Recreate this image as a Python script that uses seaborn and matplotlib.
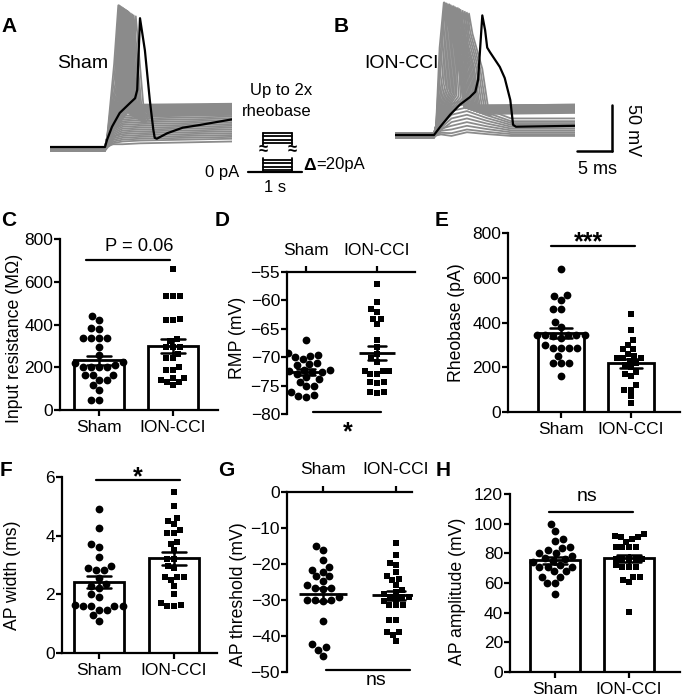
import numpy as np
import pandas as pd
import matplotlib
matplotlib.use("Agg")
import matplotlib.pyplot as plt
import seaborn as sns

# ---------------- data ----------------
groups = ["Sham", "ION-CCI"]

# C: input resistance (MOhm)
c_sham = [440, 420, 385, 377, 335, 335, 335, 335, 296, 257, 225, 220, 210, 203, 203,
          203, 203, 165, 165, 165, 140, 140, 117, 94, 47, 47]
c_ion = [660, 533, 533, 533, 425, 421, 421, 323, 330, 296, 296, 296, 260, 242, 242,
         200, 187, 187, 148, 148, 129, 129, 117, 140]
# D: RMP (mV)
d_sham = [-67.0, -69.6, -69.8, -69.2, -70.0, -70.4, -71.1, -71.4, -71.2, -72.0, -72.3,
          -72.6, -72.5, -72.6, -73.0, -73.5, -73.9, -74.3, -75.1, -75.0, -76.1, -77.0,
          -76.8, -76.6, -72.2]
d_ion = [-57.2, -60.2, -61.5, -62.1, -63.3, -63.3, -64.2, -67.0, -68.2, -69.5, -70.2,
         -70.8, -72.4, -72.4, -72.4, -73.0, -73.0, -74.3, -74.5, -74.3, -76.1, -76.3, -76.1]
# E: rheobase (pA)
e_sham = [640, 524, 520, 502, 460, 460, 404, 346, 346, 346, 346, 346, 340, 286, 286,
          286, 286, 252, 219, 219, 219, 162, 300, 330, 380]
e_ion = [440, 365, 320, 300, 280, 280, 260, 250, 240, 240, 240, 230, 220, 210, 200,
         180, 170, 160, 120, 100, 100, 70, 40]
# F: AP width (ms)
f_sham = [4.9, 4.27, 3.7, 3.6, 3.27, 2.95, 2.82, 2.82, 2.9, 2.57, 2.27, 2.36, 2.23, 1.9,
          1.62, 1.59, 1.59, 1.59, 1.48, 1.48, 1.28, 1.09, 2.0, 1.6]
f_ion = [5.5, 5.0, 4.5, 4.6, 4.4, 4.2, 4.1, 4.1, 3.8, 3.7, 3.5, 3.2, 3.2, 2.95, 2.9,
         2.6, 2.6, 2.6, 2.5, 2.3, 2.0, 1.7, 1.6, 1.6, 1.65]
# G: AP threshold (mV)
g_sham = [-15.1, -16.2, -18.8, -20.8, -21.6, -23.4, -22.2, -23.4, -24.7, -26.9, -26.6,
          -26.6, -25.9, -29.9, -29.9, -29.9, -29.2, -30.3, -35.8, -42.3, -43.1, -43.8, -45.6]
g_ion = [-14.2, -17.6, -19.7, -20.4, -23.4, -24.1, -22.2, -24.4, -25.9, -28.4, -27.1,
         -27.8, -30.3, -29.2, -29.2, -29.2, -29.6, -31.5, -31.5, -31.5, -35.6, -35.6,
         -38.9, -38.9, -39.8, -41.4]
# H: AP amplitude (mV)
h_sham = [99.7, 95.0, 89.4, 88.2, 84.4, 83.5, 82.2, 80.5, 79.9, 78, 77, 76, 75, 74, 72,
          70.9, 70.9, 70.9, 68, 68, 64.2, 64.2, 60, 60, 52.4]
h_ion = [93, 92, 91, 90, 91, 87.8, 84.4, 84, 84, 84, 76.5, 76, 76, 76, 76, 70.9, 70.9,
         70.9, 72, 64.2, 64.2, 61.9, 60.8, 40.5]

# A: Sham example traces (time ms from step onset, membrane potential mV)
a_black_t = [-7.9, 0, 0.3, 1.0, 2.1, 3.6, 4.3, 4.6, 5.0, 5.7, 6.4, 6.9, 7.1, 7.4, 8.9, 11.1, 13.6, 18.1]
a_black_v = [-60, -60, -52, -38, -23, -12, -7, 2, 80, 45, -9, -41, -50, -51, -45, -39, -36, -30]
a_spk_tp = [1.9, 2.0, 2.1, 2.2, 2.3, 2.4, 2.5, 2.6, 2.7, 2.8, 2.9, 3.0, 3.1, 3.2, 3.35, 3.5, 3.7, 3.9, 4.1, 4.4]
a_spk_vp = [94, 94, 93, 93, 92, 92, 91, 91, 90, 90, 89, 89, 88, 88, 87, 86, 85, 84, 83, 82]
a_spk_pre = [30, 20, 10, 5, 0, -3, -5, -7, -9, -10, -11, -12, -13, -14, -15, -15, -16, -16, -17, -17]
a_spk_lv = [-14, -15, -15, -16, -16, -17, -17, -18, -18, -19, -19, -20, -20, -21, -21, -22, -23, -24, -25, -26]
a_spk_base = [-60, -61, -62, -63, -64, -60, -61, -62, -63, -64, -60, -61, -62, -63, -64, -60, -61, -62, -63, -64]
a_sub_lv = [-25, -27, -29, -31, -33, -35, -37, -39, -41, -43, -45, -47, -49, -51, -53, -56]
a_sub_base = [-60, -61, -62, -63, -64, -60, -61, -62, -63, -64, -60, -61, -62, -63, -64, -60]

# B: ION-CCI example traces
b_black_t = [-5.6, 0, 0.9, 2.3, 3.7, 5.1, 5.9, 6.3, 6.9, 7.3, 7.6, 8.0, 9.4, 10.1, 10.9, 11.3, 11.7, 20.1]
b_black_v = [-60, -60, -51, -38, -27, -19, -13, 0, 70, 54, 35, 30, 14, 2, -22, -49, -51, -50]
b_spk_tp = [1.4, 1.5, 1.6, 1.8, 2.0, 2.2, 2.4, 2.6, 2.8, 3.0, 3.2, 3.4, 3.6, 3.8, 4.1, 4.4, 4.7, 5.0]
b_spk_vp = [84, 84, 83, 83, 82, 82, 81, 80, 80, 79, 78, 78, 77, 76, 75, 74, 73, 72]
b_spk_pre = [35, 25, 15, 5, 0, -5, -8, -10, -12, -13, -14, -15, -16, -17, -18, -19, -20, -21]
b_spk_sh = [25, 24, 23, 22, 21, 20, 20, 19, 18, 18, 17, 16, 16, 15, 14, 13, 12, 12]
b_spk_lv = [-28, -28, -29, -29, -30, -30, -31, -31, -32, -32, -33, -33, -34, -34, -35, -35, -36, -37]
b_spk_base = [-58, -59, -60, -61, -62, -63, -58, -59, -60, -61, -62, -63, -58, -59, -60, -61, -62, -63]
b_sub_pk = [-22, -26, -30, -34, -38, -42, -46, -50, -54, -57]
b_sub_lv = [-42, -45, -47, -49, -51, -53, -55, -57, -59, -61]
b_sub_base = [-58, -59, -60, -61, -62, -63, -58, -59, -60, -61]

# ---------------- style ----------------
sns.set_theme(style="ticks")
plt.rcParams["font.family"] = ["Liberation Sans", "DejaVu Sans"]
plt.rcParams["axes.linewidth"] = 1.6
plt.rcParams["xtick.major.width"] = 1.6
plt.rcParams["ytick.major.width"] = 1.6
plt.rcParams["xtick.major.size"] = 4
plt.rcParams["ytick.major.size"] = 4
plt.rcParams["xtick.color"] = "black"
plt.rcParams["ytick.color"] = "black"
plt.rcParams["axes.edgecolor"] = "black"
plt.rcParams["text.color"] = "black"
plt.rcParams["axes.labelcolor"] = "black"

W, H = 682, 698
fig = plt.figure(figsize=(W / 100, H / 100), dpi=100)

def px_axes(l, t, r, b, **kw):
    return fig.add_axes([l / W, 1 - b / H, (r - l) / W, (b - t) / H], **kw)

# overlay for annotations (pixel coordinates)
ov = fig.add_axes([0, 0, 1, 1], zorder=10)
ov.set_xlim(0, W)
ov.set_ylim(H, 0)
ov.axis("off")
ov.patch.set_alpha(0)

GRAY = "#8b8b8b"
TICK_FS = 12.5
LAB_FS = 12.7

def make_df(a, b):
    return pd.DataFrame({"group": ["Sham"] * len(a) + ["ION-CCI"] * len(b),
                         "value": list(a) + list(b)})

def points(ax, df, size=5.6):
    sns.swarmplot(data=df[df.group == "Sham"], x="group", y="value", order=groups,
                  color="black", marker="o", size=size, ax=ax, zorder=3)
    sns.swarmplot(data=df[df.group == "ION-CCI"], x="group", y="value", order=groups,
                  color="black", marker="s", size=size - 1.0, ax=ax, zorder=3)

def bar_panel(ax, a, b, xlim, ylim, yticks, ylabel, lab_xy):
    df = make_df(a, b)
    sns.barplot(data=df, x="group", y="value", order=groups, color="white",
                edgecolor="black", linewidth=2.0, width=0.67, errorbar="se",
                capsize=0.32, err_kws={"color": "black", "linewidth": 1.8, "zorder": 5},
                ax=ax)
    for p in ax.patches:
        p.set_facecolor("white")
        p.set_zorder(1)
    points(ax, df)
    ax.set_xlim(*xlim)
    ax.set_ylim(*ylim)
    ax.set_yticks(yticks)
    ax.set_xlabel("")
    ax.set_ylabel(ylabel, fontsize=LAB_FS, va="center")
    ax.yaxis.set_label_coords(*lab_xy)
    sns.despine(ax=ax)
    ax.tick_params(axis="y", labelsize=TICK_FS, pad=1)
    ax.tick_params(axis="x", labelsize=TICK_FS, pad=3)
    for s in ax.spines.values():
        s.set_linewidth(1.6)

def dot_panel(ax, a, b, xlim, ylim, yticks, ylabel, lab_xy, msize, top_pad):
    df = make_df(a, b)
    points(ax, df)
    sns.pointplot(data=df, x="group", y="value", order=groups, errorbar="se",
                  capsize=0.25, color="black", marker="_", markersize=msize,
                  markeredgewidth=2.0, linestyle="none",
                  err_kws={"linewidth": 1.8}, ax=ax)
    ax.set_xlim(*xlim)
    ax.set_ylim(*ylim)
    ax.set_yticks(yticks)
    ax.set_xlabel("")
    ax.set_ylabel(ylabel, fontsize=LAB_FS, va="center")
    ax.yaxis.set_label_coords(*lab_xy)
    ax.xaxis.set_ticks_position("top")
    ax.xaxis.set_label_position("top")
    ax.spines["bottom"].set_visible(False)
    ax.spines["right"].set_visible(False)
    ax.spines["top"].set_visible(True)
    ax.tick_params(axis="y", labelsize=TICK_FS, pad=1)
    ax.tick_params(axis="x", labelsize=TICK_FS, pad=top_pad)

def sig(ax, x0, x1, y, text, tx, ty, fs, va="baseline", weight="normal"):
    ax.plot([x0, x1], [y, y], color="black", lw=1.6, clip_on=False, zorder=6)
    ax.text(tx, ty, text, ha="center", va=va, fontsize=fs, fontweight=weight,
            clip_on=False)

# ---------------- C ----------------
axC = px_axes(60, 239, 218, 410)
bar_panel(axC, c_sham, c_ion, (-0.527, 1.608), (0, 800), [0, 200, 400, 600, 800],
          "Input resistance (MΩ)", (-0.29, 0.42))
sig(axC, -0.18, 0.96, 702, "P = 0.06", 0.54, 767, 13.2, va="center")

# ---------------- D ----------------
axD = px_axes(287, 272, 415, 414)
dot_panel(axD, d_sham, d_ion, (-0.27, 1.535), (-80, -55), [-80, -75, -70, -65, -60, -55],
          "RMP (mV)", (-0.39, 0.535), 26, 6)
sig(axD, 0.1, 1.06, -79.65, "*", 0.58, -84.4, 18, va="baseline", weight="bold")

# ---------------- E ----------------
axE = px_axes(508, 233, 680, 412)
bar_panel(axE, e_sham, e_ion, (-0.757, 1.7), (0, 800), [0, 200, 400, 600, 800],
          "Rheobase (pA)", (-0.30, 0.50))
sig(axE, -0.14, 1.06, 742, "***", 0.39, 728, 18, va="baseline", weight="bold")

# ---------------- F ----------------
axF = px_axes(62, 477, 217, 653)
bar_panel(axF, f_sham, f_ion, (-0.49, 1.57), (0, 6), [0, 2, 4, 6],
          "AP width (ms)", (-0.32, 0.44))
sig(axF, -0.04, 1.08, 5.9, "*", 0.52, 5.74, 18, va="baseline", weight="bold")

# ---------------- G ----------------
axG = px_axes(287, 492, 412, 672)
dot_panel(axG, g_sham, g_ion, (-0.49, 1.22), (-50, 0), [-50, -40, -30, -20, -10, 0],
          "AP threshold (mV)", (-0.385, 0.43), 34, 7)
sig(axG, 0.05, 1.19, -49.4, "ns", 0.73, -52.3, 14, va="center")

# ---------------- H ----------------
axH = px_axes(510, 494, 680, 672)
bar_panel(axH, h_sham, h_ion, (-0.61, 1.69), (0, 120), [0, 20, 40, 60, 80, 100, 120],
          "AP amplitude (mV)", (-0.31, 0.455))
sig(axH, -0.08, 1.05, 107.9, "ns", 0.43, 118.6, 14, va="center")

# ---------------- A / B traces ----------------
def trace_axes(l, t, r, b, t0px, basepx):
    ax = px_axes(l, t, r, b)
    ax.set_xlim((l - t0px) / 7.0, (r - t0px) / 7.0)
    ax.set_ylim(-60 - (b - basepx) / 0.92, -60 + (basepx - t) / 0.92)
    ax.axis("off")
    return ax

GLW = 1.3
axA = trace_axes(50, 0, 232, 160, 105, 147)
x0A, x1A = axA.get_xlim()
for tp, vp, pre, lv, bs in zip(a_spk_tp, a_spk_vp, a_spk_pre, a_spk_lv, a_spk_base):
    t = [x0A, 0, 0.3, tp - 0.6, tp, tp + 0.5, tp + 1.3, tp + 1.8, tp + 2.6, x1A]
    v = [bs, bs, -50, pre, vp, vp - 45, lv - 8, lv - 3, lv, lv + 1]
    sns.lineplot(x=t, y=v, ax=axA, color=GRAY, lw=GLW, sort=False, estimator=None)
for lv, bs in zip(a_sub_lv, a_sub_base):
    t = [x0A, 0, 0.4, 1.2, 2.5, 5.0, x1A]
    v = [bs, bs, bs + 0.35 * (lv - bs), bs + 0.75 * (lv - bs), lv - 1, lv, lv + 2]
    sns.lineplot(x=t, y=v, ax=axA, color=GRAY, lw=GLW, sort=False, estimator=None)
sns.lineplot(x=a_black_t, y=a_black_v, ax=axA, color="black", lw=1.6, sort=False,
             estimator=None)
axA.set_xlim(x0A, x1A)

axB = trace_axes(395, 0, 575, 150, 434, 135)
x0B, x1B = axB.get_xlim()
for tp, vp, pre, sh, lv, bs in zip(b_spk_tp, b_spk_vp, b_spk_pre, b_spk_sh, b_spk_lv, b_spk_base):
    t = [x0B, 0, 0.3, tp - 0.6, tp, tp + 0.5, tp + 1.9, tp + 2.9, tp + 3.5, x1B]
    v = [bs, bs, -50, pre, vp, vp - 22, sh, lv - 2, lv, lv + 1]
    sns.lineplot(x=t, y=v, ax=axB, color=GRAY, lw=GLW, sort=False, estimator=None)
for pk, lv, bs in zip(b_sub_pk, b_sub_lv, b_sub_base):
    t = [x0B, 0, 1.0, 2.5, 4.7, 7.5, 11.0, x1B]
    v = [bs, bs, bs + 0.4 * (pk - bs), pk - 4, pk, (pk + lv) / 2, lv, lv]
    sns.lineplot(x=t, y=v, ax=axB, color=GRAY, lw=GLW, sort=False, estimator=None)
sns.lineplot(x=b_black_t, y=b_black_v, ax=axB, color="black", lw=1.6, sort=False,
             estimator=None)
axB.set_xlim(x0B, x1B)

# ---------------- annotations (pixel coordinates) ----------------
txt = dict(ha="center", va="center", color="black")
ov.text(83, 64, "Sham", fontsize=14, **txt)
ov.text(401, 63, "ION-CCI", fontsize=14, **txt)
ov.text(281, 91, "Up to 2x", fontsize=12, **txt)
ov.text(277, 111, "rheobase", fontsize=12, **txt)
ov.text(222, 172, "0 pA", fontsize=12, **txt)
ov.text(275, 187, "1 s", fontsize=12, **txt)
ov.text(303, 165, "Δ", fontsize=12.5, fontweight="bold", ha="left", va="center")
ov.text(316, 165, "=20pA", fontsize=12, ha="left", va="center")
# stimulus protocol
ov.plot([248, 302], [172, 172], color="black", lw=1.6)
for yy in [160, 163.3, 166.7, 170]:
    ov.plot([263, 292], [yy, yy], color="black", lw=1.3)
for yy in [133, 136.3, 139.7, 143]:
    ov.plot([263, 292], [yy, yy], color="black", lw=1.3)
for xx in [263, 292]:
    ov.plot([xx, xx], [158, 172], color="black", lw=1.3)
    ov.plot([xx, xx], [133, 145], color="black", lw=1.3)
    ov.text(xx, 150, "≈", fontsize=12, fontweight="bold", ha="center", va="center")
# scale bar
ov.plot([612, 612], [105, 151], color="black", lw=1.8)
ov.plot([577, 612], [151, 151], color="black", lw=1.8)
ov.text(632, 130, "50 mV", fontsize=13, rotation=270, **txt)
ov.text(597, 169, "5 ms", fontsize=13, **txt)

# panel letters
for lab, x, y in [("A", 9, 26), ("B", 341, 26), ("C", 9, 220), ("D", 222, 220),
                  ("E", 442, 220), ("F", 6, 470), ("G", 226, 470), ("H", 443, 470)]:
    ov.text(x, y, lab, fontsize=15, fontweight="bold", **txt)

fig.savefig("out.png", dpi=100)
